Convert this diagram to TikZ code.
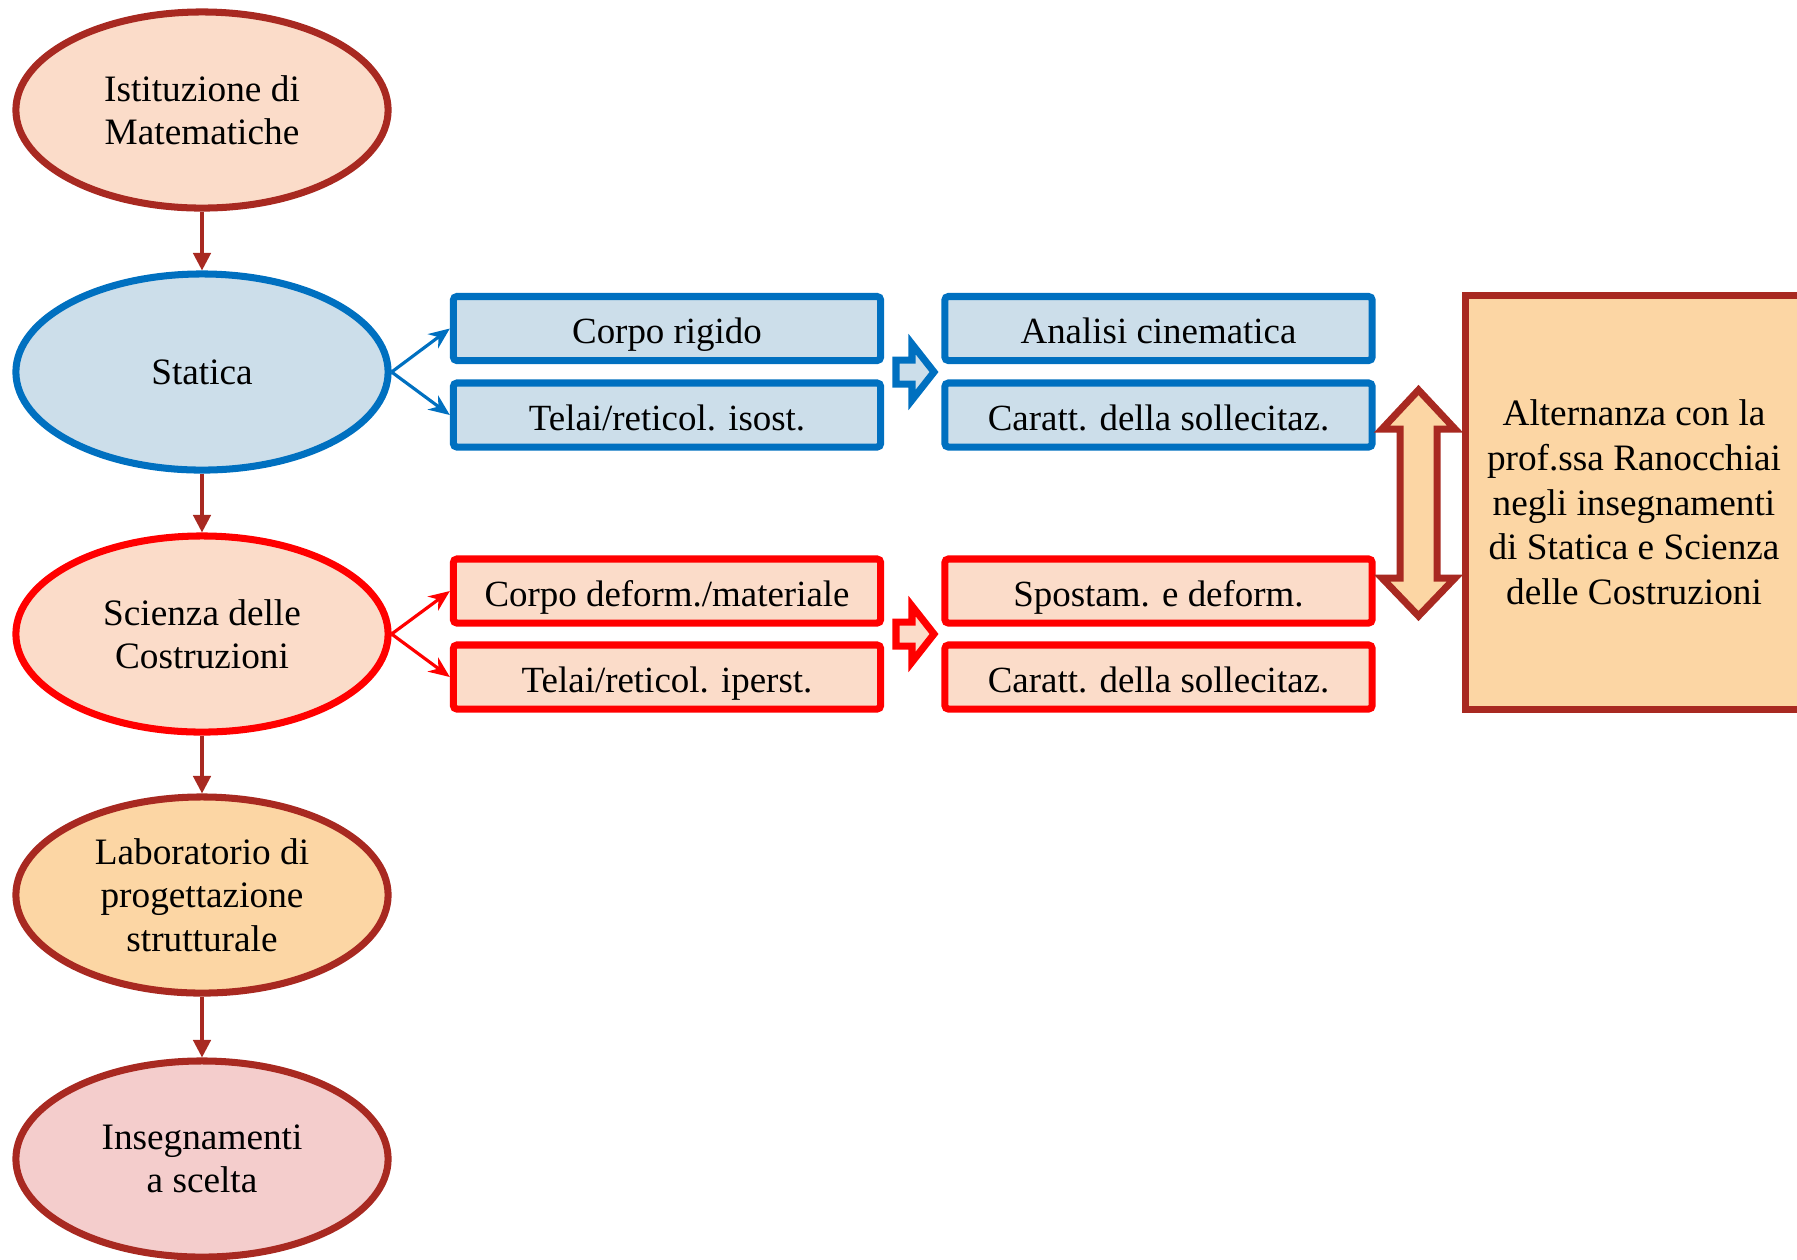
\documentclass[tikz,border=0pt]{standalone}
\usepackage{fontspec}
\setmainfont{Liberation Serif}
\usetikzlibrary{arrows.meta,shapes.geometric,positioning,calc}

\definecolor{dkred}{RGB}{168,41,33}
\definecolor{peach}{RGB}{251,220,201}
\definecolor{ltblue}{RGB}{204,222,234}
\definecolor{mblue}{RGB}{0,112,192}
\definecolor{apricot}{RGB}{252,214,164}
\definecolor{rosy}{RGB}{244,205,204}

\begin{document}
\begin{tikzpicture}[x=0.01cm, y=-0.01cm,
    course/.style={draw=dkred, ellipse, line width=2pt, minimum width=3.72cm, minimum height=1.96cm, inner sep=0pt, align=center, font=\fontsize{10.6}{12.3}\selectfont},
    topic/.style={draw, rectangle, rounded corners=1pt, line width=2pt, minimum width=4.27cm, minimum height=0.64cm, inner sep=0pt, text height=0.88em, text depth=0.02em, font=\fontsize{10.5}{12.3}\selectfont},
    down/.style={-{Triangle[length=5pt,width=5pt]}, line width=0.9pt, dkred},
    fan/.style={-{Stealth[length=6pt,width=5pt]}, line width=0.9pt},
    block/.style={line width=2pt, line join=miter}
]
\useasboundingbox (0,0) rectangle (1797,1259);

% course sequence
\node[course, fill=peach] (ist) at (202,110) {Istituzione di\\Matematiche};
\node[course, fill=ltblue, draw=mblue] (stat) at (202,372) {Statica};
\node[course, fill=peach, draw=red] (sdc) at (202,634) {Scienza delle\\Costruzioni};
\node[course, fill=apricot] (lab) at (202,895) {Laboratorio di\\progettazione\\strutturale};
\node[course, fill=rosy] (ins) at (202,1159) {Insegnamenti\\a scelta};

\draw[down] (ist) -- (stat);
\draw[down] (stat) -- (sdc);
\draw[down] (sdc) -- (lab);
\draw[down] (lab) -- (ins);

% Statica topics
\node[topic, draw=mblue, fill=ltblue] (cr) at (667,328.5) {Corpo rigido};
\node[topic, draw=mblue, fill=ltblue] (tis) at (667,415) {Telai/reticol. isost.};
\node[topic, draw=mblue, fill=ltblue] (ac) at (1158.5,328.5) {Analisi cinematica};
\node[topic, draw=mblue, fill=ltblue] (cs1) at (1158.5,415) {Caratt. della sollecitaz.};

\draw[fan, mblue] (stat.east) -- (cr.west);
\draw[fan, mblue] (stat.east) -- (tis.west);

% Scienza topics
\node[topic, draw=red, fill=peach] (cdm) at (667,591) {Corpo deform./materiale};
\node[topic, draw=red, fill=peach] (tip) at (667,677) {Telai/reticol. iperst.};
\node[topic, draw=red, fill=peach] (sd) at (1158.5,591) {Spostam. e deform.};
\node[topic, draw=red, fill=peach] (cs2) at (1158.5,677) {Caratt. della sollecitaz.};

\draw[fan, red] (sdc.east) -- (cdm.west);
\draw[fan, red] (sdc.east) -- (tip.west);

% block arrows
\draw[block, draw=mblue, fill=ltblue] (896,360) -- (912,360) -- (912,344) -- (934,372) -- (912,400) -- (912,384) -- (896,384) -- cycle;
\draw[block, draw=red, fill=peach] (896,622) -- (912,622) -- (912,606) -- (934,634) -- (912,662) -- (912,646) -- (896,646) -- cycle;

% alternanza
\node[draw=dkred, fill=apricot, line width=2pt, minimum width=3.36cm, minimum height=4.13cm, inner sep=0pt, align=center, font=\fontsize{10.6}{12.7}\selectfont] (alt) at (1634,502.5) {Alternanza con la\\prof.ssa Ranocchiai\\negli insegnamenti\\di Statica e Scienza\\delle Costruzioni};

\draw[block, draw=dkred, fill=apricot] (1400,429) -- (1382,429) -- (1418.5,390) -- (1455,429) -- (1437,429) -- (1437,578) -- (1455,578) -- (1418.5,616) -- (1382,578) -- (1400,578) -- cycle;
\end{tikzpicture}
\end{document}
